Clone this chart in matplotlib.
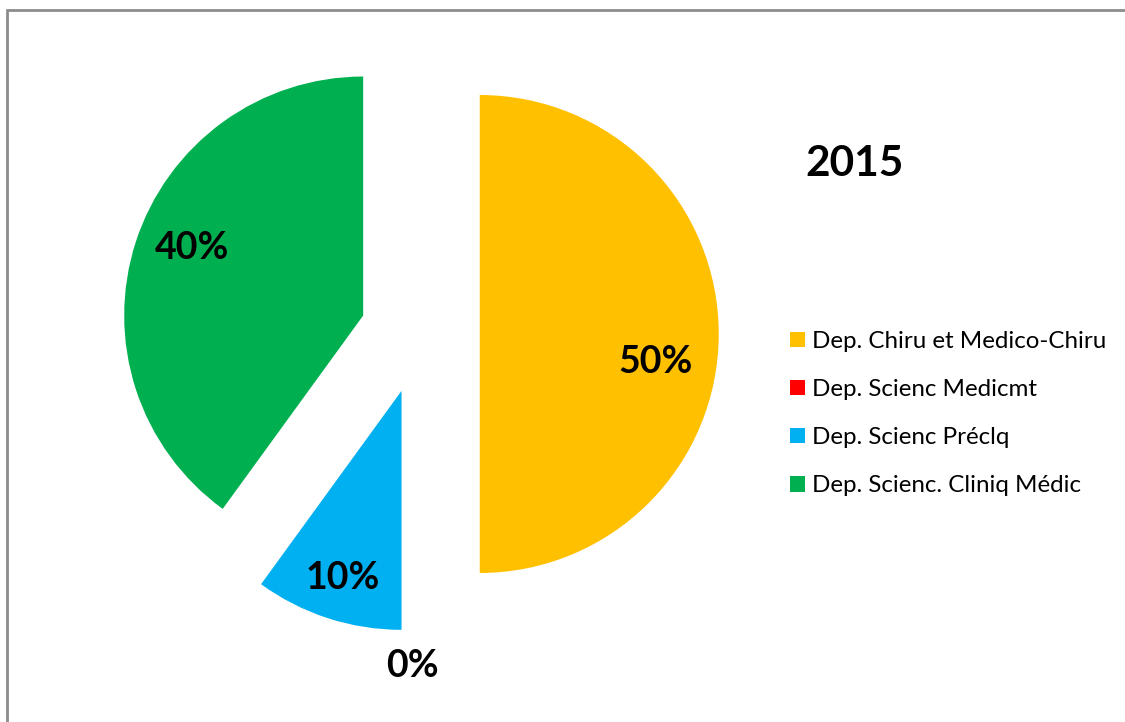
import numpy as np
import matplotlib.pyplot as plt
from matplotlib.patches import Rectangle

plt.rcParams['font.family'] = ['Lato', 'DejaVu Sans']

# data
departements = ['Dep. Chiru et Medico-Chiru', 'Dep. Scienc Medicmt',
                'Dep. Scienc Préclq', 'Dep. Scienc. Cliniq Médic']
parts = [50, 0, 10, 40]
couleurs = ['#FFC000', '#FF0000', '#00B0F0', '#00B050']
annee = '2015'

# label placement (angle in degrees, distance as fraction of radius)
lab_ang = [-9, -91.5, -107.6, 158.6]
lab_dist = [0.745, 1.14, 0.82, 0.77]

W, H = 1125, 722
R = 239
fig = plt.figure(figsize=(W / 100, H / 100), dpi=100)
ax = fig.add_axes([0, 0, 1, 1])

wedges, texts, autotexts = ax.pie(parts, colors=couleurs, radius=R,
                                  center=(420, H - 334), startangle=90,
                                  counterclock=False, explode=[0.25 * R] * 4,
                                  autopct='%d%%', pctdistance=0.77,
                                  wedgeprops=dict(linewidth=0),
                                  textprops=dict(fontsize=27, fontweight='bold', color='black'))
ax.set_xlim(0, W)
ax.set_ylim(0, H)
ax.set_aspect('equal')
ax.axis('off')

for t, w, a, d in zip(autotexts, wedges, lab_ang, lab_dist):
    cx, cy = w.center
    t.set_position((cx + d * R * np.cos(np.radians(a)), cy + d * R * np.sin(np.radians(a))))

fig.text(855 / W, 1 - 164 / H, annee, fontsize=30.5, fontweight='bold', ha='center', va='center')

fig.legend(wedges, departements, loc='upper left', bbox_to_anchor=(790 / W, 1 - 331 / H),
           frameon=False, fontsize=17.4, handlelength=0.62, handleheight=0.62,
           handletextpad=0.3, labelspacing=1.12, borderpad=0, borderaxespad=0)

# chart border
fig.patches.append(Rectangle((7 / W, -0.01), 1.1, 1 - 10 / H + 0.01, transform=fig.transFigure,
                             fill=False, edgecolor='#8c8c8c', linewidth=2))

fig.savefig('out.png', dpi=100)
